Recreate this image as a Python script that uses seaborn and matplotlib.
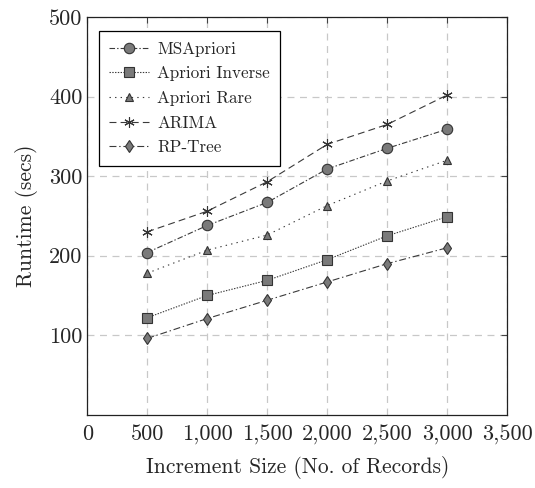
import pandas as pd
import matplotlib
matplotlib.use("Agg")
import matplotlib.pyplot as plt
import seaborn as sns
from matplotlib.ticker import FuncFormatter

# Data
sizes = [500, 1000, 1500, 2000, 2500, 3000]
msapriori = [204, 238, 267, 309, 335, 359]
apriori_inverse = [122, 150, 169, 195, 225, 249]
apriori_rare = [178, 207, 226, 263, 294, 320]
arima = [230, 256, 293, 340, 365, 402]
rp_tree = [96, 121, 144, 167, 190, 210]

series = {
    'MSApriori': msapriori,
    'Apriori Inverse': apriori_inverse,
    'Apriori Rare': apriori_rare,
    'ARIMA': arima,
    'RP-Tree': rp_tree,
}

styles = {
    'MSApriori': dict(marker='o', markersize=7.5, linestyle=(0, (4, 1.5, 1, 1.5))),
    'Apriori Inverse': dict(marker='s', markersize=7.5, linestyle=(0, (1, 1))),
    'Apriori Rare': dict(marker='^', markersize=5.5, linestyle=(0, (1, 3))),
    'ARIMA': dict(marker=(6, 2, 0), markersize=7.5, linestyle=(0, (5, 3))),
    'RP-Tree': dict(marker='d', markersize=6.5, linestyle=(0, (5, 2, 1, 2))),
}

sns.set_style('white')
plt.rcParams['font.family'] = ['cmr10', 'DejaVu Serif']
plt.rcParams['lines.scale_dashes'] = False

fig = plt.figure(figsize=(5.35, 4.88), dpi=100)
ax = fig.add_axes([0.163, 0.150, 0.785, 0.815])

line_color = '#3a3a3a'
for name, values in series.items():
    df = pd.DataFrame({'size': sizes, 'runtime': values})
    st = styles[name]
    sns.lineplot(data=df, x='size', y='runtime', ax=ax, label=name,
                 color=line_color, linewidth=0.8, linestyle=st['linestyle'],
                 marker=st['marker'], markersize=st['markersize'],
                 markerfacecolor='#7a7a7a', markeredgecolor='#333333',
                 markeredgewidth=0.8)

ax.set_xlim(0, 3500)
ax.set_ylim(0, 500)
ax.set_xticks(range(0, 3501, 500))
ax.set_yticks(range(100, 501, 100))
ax.xaxis.set_major_formatter(FuncFormatter(lambda v, p: f'{v:,.0f}'))

ax.grid(True, linestyle=(0, (5, 4)), color='#c8c8c8', linewidth=0.9)
ax.tick_params(direction='in', length=4, width=0.8, labelsize=16,
               top=True, right=True, color='#444444')
ax.tick_params(axis='x', pad=7)
for s in ax.spines.values():
    s.set_color('#222222')
    s.set_linewidth(0.9)

ax.set_xlabel('Increment Size (No. of Records)', fontsize=15.5, labelpad=8)
ax.set_ylabel('Runtime (secs)', fontsize=15.5, labelpad=8)

leg = ax.legend(loc='upper left', bbox_to_anchor=(0.028, 0.965),
                borderaxespad=0, fancybox=False, framealpha=1,
                edgecolor='black', fontsize=12.3, handlelength=2.3,
                handletextpad=0.5, labelspacing=0.55, borderpad=0.6)
leg.get_frame().set_linewidth(0.9)

fig.savefig('out.png', dpi=100)
